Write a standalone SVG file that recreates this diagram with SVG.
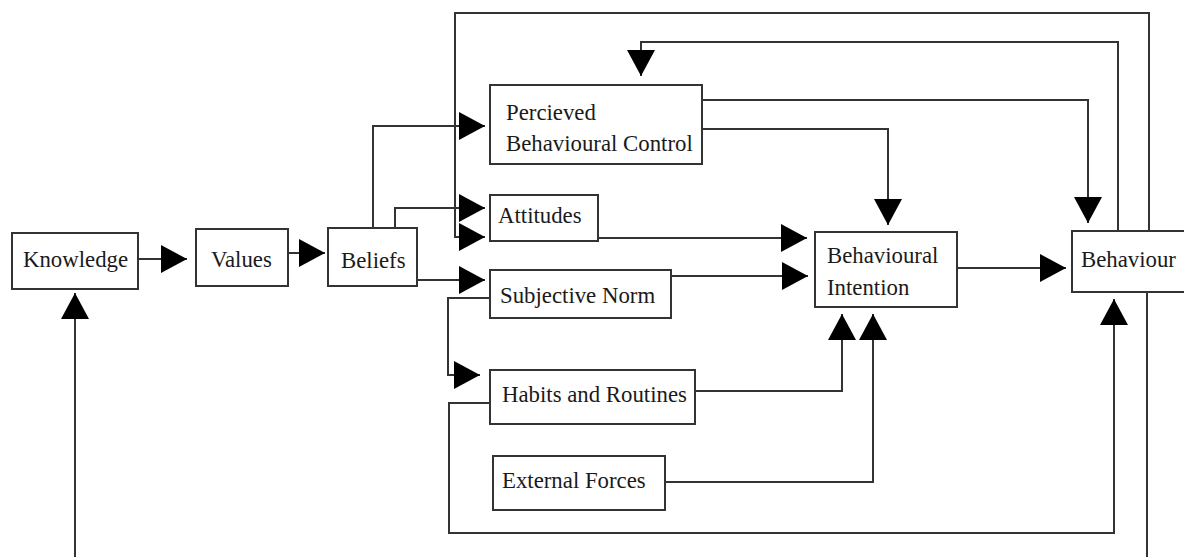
<svg xmlns="http://www.w3.org/2000/svg" width="1184" height="557" viewBox="0 0 1184 557">
<defs>
<style>
.box{fill:#fff;stroke:#333;stroke-width:2}
.lbl{font-family:'Liberation Serif','Tinos','DejaVu Serif',serif;font-size:22.8px;fill:#1a1a1a}
.con{fill:none;stroke:#333;stroke-width:2}
</style>
<marker id="ah" markerUnits="userSpaceOnUse" markerWidth="27" markerHeight="28" refX="26" refY="14" orient="auto" viewBox="0 0 27 28">
<path d="M0,0 L26,14 L0,28 Z" fill="#000"/>
</marker>
</defs>
<rect width="1184" height="557" fill="#fff"/>
<g id="connectors">
<path class="con" d="M138,259 H187" marker-end="url(#ah)"/>
<path class="con" d="M288,253 H325" marker-end="url(#ah)"/>
<path class="con" d="M373,228 V126 H485" marker-end="url(#ah)"/>
<path class="con" d="M395,228 V208 H485" marker-end="url(#ah)"/>
<path class="con" d="M1149,231 V13 H455 V237 H485" marker-end="url(#ah)"/>
<path class="con" d="M417,280 H485" marker-end="url(#ah)"/>
<path class="con" d="M598,238 H807" marker-end="url(#ah)"/>
<path class="con" d="M671,276 H808" marker-end="url(#ah)"/>
<path class="con" d="M490,298 H448 V375 H480" marker-end="url(#ah)"/>
<path class="con" d="M695,391 H842 V314" marker-end="url(#ah)"/>
<path class="con" d="M665,482 H873 V314" marker-end="url(#ah)"/>
<path class="con" d="M702,129 H888 V225" marker-end="url(#ah)"/>
<path class="con" d="M702,100 H1088 V223" marker-end="url(#ah)"/>
<path class="con" d="M1118,231 V42 H641 V76" marker-end="url(#ah)"/>
<path class="con" d="M957,268 H1066" marker-end="url(#ah)"/>
<path class="con" d="M490,403 H449 V533 H1114 V299" marker-end="url(#ah)"/>
<path class="con" d="M1147,292 V557"/>
<path class="con" d="M75,557 V293" marker-end="url(#ah)"/>
</g>
<g id="knowledge"><rect class="box" x="12" y="233" width="126" height="56"/><text class="lbl" x="23" y="267">Knowledge</text></g>
<g id="values"><rect class="box" x="196" y="229" width="92" height="57"/><text class="lbl" x="211" y="267">Values</text></g>
<g id="beliefs"><rect class="box" x="328" y="228" width="89" height="58"/><text class="lbl" x="341" y="268">Beliefs</text></g>
<g id="pbc"><rect class="box" x="490" y="85" width="212" height="79"/><text class="lbl" x="506" y="120">Percieved</text><text class="lbl" x="506" y="151">Behavioural Control</text></g>
<g id="attitudes"><rect class="box" x="490" y="195" width="108" height="46"/><text class="lbl" x="498" y="223">Attitudes</text></g>
<g id="subjective-norm"><rect class="box" x="490" y="270" width="181" height="48"/><text class="lbl" x="500" y="303">Subjective Norm</text></g>
<g id="habits"><rect class="box" x="490" y="370" width="205" height="54"/><text class="lbl" x="502" y="402">Habits and Routines</text></g>
<g id="external-forces"><rect class="box" x="493" y="456" width="172" height="54"/><text class="lbl" x="502" y="488">External Forces</text></g>
<g id="behavioural-intention"><rect class="box" x="815" y="232" width="142" height="75"/><text class="lbl" x="827" y="263">Behavioural</text><text class="lbl" x="827" y="295">Intention</text></g>
<g id="behaviour"><rect class="box" x="1072" y="231" width="130" height="61"/><text class="lbl" x="1081" y="267">Behaviour</text></g>
</svg>
